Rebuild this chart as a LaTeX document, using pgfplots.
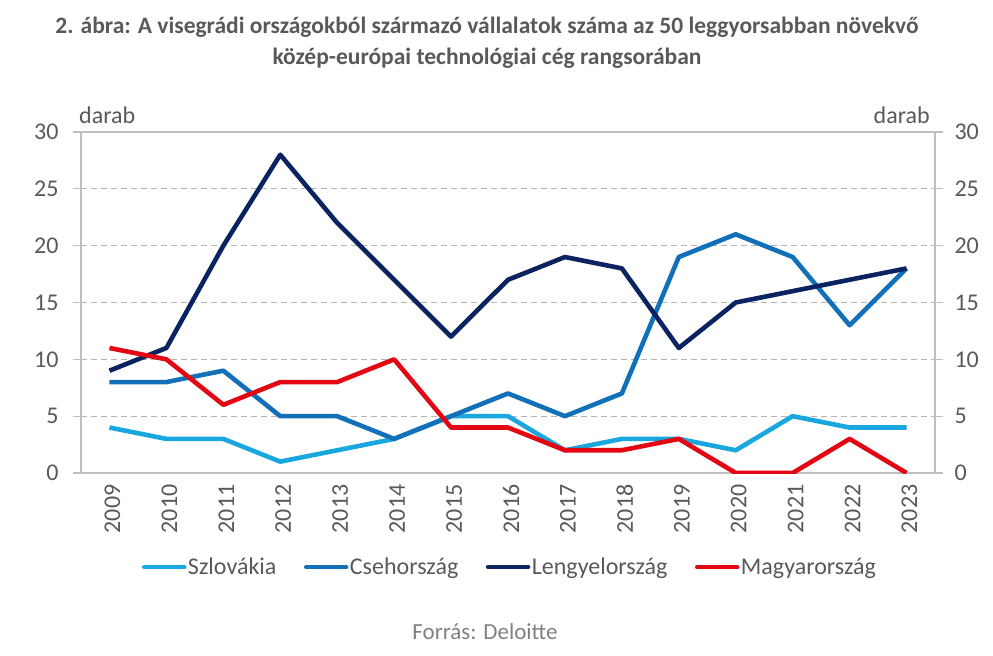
\documentclass[border=0pt]{standalone}
\usepackage{fontspec}
\setmainfont{Carlito}
\usepackage{pgfplots}
\usepackage{pgfplotstable}
\pgfplotsset{compat=1.18}
\definecolor{sk}{HTML}{1AA7E0}
\definecolor{cz}{HTML}{1170B8}
\definecolor{pl}{HTML}{0B2461}
\definecolor{hu}{HTML}{E30613}
\definecolor{txt}{HTML}{595959}
\definecolor{src}{HTML}{808080}
\definecolor{axgray}{HTML}{BFBFBF}
\definecolor{grd}{HTML}{B4B4B4}
\pgfplotstableread{
x sk cz pl hu
0 4 8 9 11
1 3 8 11 10
2 3 9 20 6
3 1 5 28 8
4 2 5 22 8
5 3 3 17 10
6 5 5 12 4
7 5 7 17 4
8 2 5 19 2
9 3 7 18 2
10 3 19 11 3
11 2 21 15 0
12 5 19 16 0
13 4 13 17 3
14 4 18 18 0
}\data
\newcommand{\tfont}{\fontsize{24bp}{28bp}\selectfont}
\pgfplotsset{
  base/.style={
    scale only axis, width=854bp, height=341bp,
    xmin=-0.5, xmax=14.5, ymin=0, ymax=30,
    ytick={0,5,...,30},
    /pgf/number format/assume math mode=true,
    ticklabel style={font=\tfont, text=txt},
    tick align=outside,
    major tick length=8bp,
    tick style={draw=axgray, line width=1.2bp},
    axis line style={draw=axgray, line width=1.2bp},
  }
}
\begin{document}
\begin{tikzpicture}
\path[use as bounding box] (-81bp,-183bp) rectangle (912bp,473bp);
\begin{axis}[base,
  xtick={0,...,14},
  xticklabels={2009,2010,2011,2012,2013,2014,2015,2016,2017,2018,2019,2020,2021,2022,2023},
  xtick style={draw=none},
  xticklabel style={rotate=90, anchor=east, yshift=-3bp},
  ytick pos=left,
  yticklabel style={xshift=-11bp},
  ymajorgrids,
  grid style={dash pattern=on 6bp off 4bp, draw=grd, line width=1.2bp},
  legend columns=4,
  legend style={draw=none, fill=none, font=\tfont, text=txt,
    at={(0.502,-0.276)}, anchor=center,
    nodes={inner sep=1.5bp},
    /tikz/every even column/.append style={column sep=26bp}},
  legend image code/.code={\draw[#1, line cap=round, line width=4.5bp] (0bp,0bp) -- (40bp,0bp);},
  every axis plot/.append style={line width=4.6bp, line join=round},
]
\addplot[sk] table[x=x,y=sk] {\data};
\addlegendentry{Szlovákia}
\addplot[cz] table[x=x,y=cz] {\data};
\addlegendentry{Csehország}
\addplot[pl] table[x=x,y=pl] {\data};
\addlegendentry{Lengyelország}
\addplot[hu] table[x=x,y=hu] {\data};
\addlegendentry{Magyarország}
\end{axis}
\begin{axis}[base,
  axis x line=none, axis y line*=right,
  yticklabel style={xshift=8bp},
]
\addplot[draw=none] coordinates {(0,0)};
\end{axis}
\node[anchor=south west, inner sep=0pt, font=\tfont, text=txt] at (-2bp,349bp) {darab};
\node[anchor=south east, inner sep=0pt, font=\tfont, text=txt] at (849bp,349bp) {darab};
\node[font=\fontsize{23.5bp}{31bp}\selectfont\bfseries, text=txt, align=center] at (406bp,430bp)
  {2. ábra: A visegrádi országokból származó vállalatok száma az 50 leggyorsabban növekvő\\közép-európai technológiai cég rangsorában};
\node[font=\fontsize{23bp}{26bp}\selectfont, text=src] at (404bp,-159bp) {Forrás: Deloitte};
\end{tikzpicture}
\end{document}
